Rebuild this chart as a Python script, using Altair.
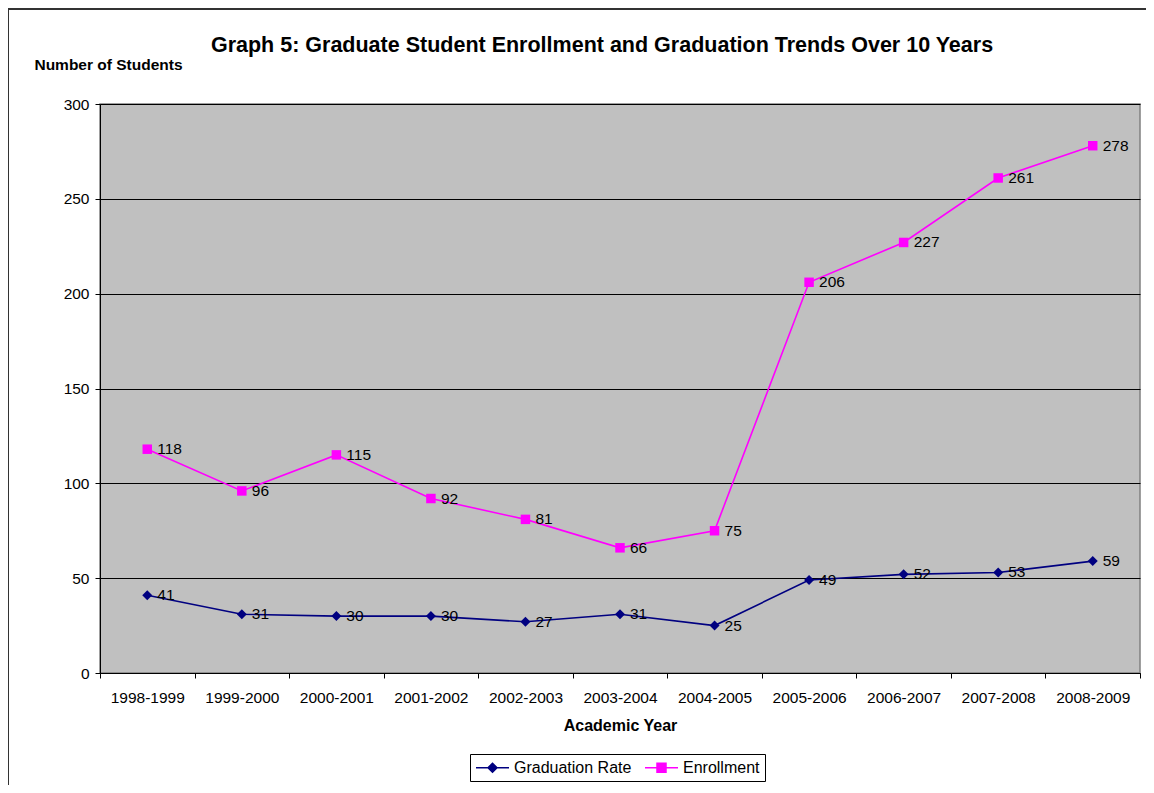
import altair as alt
import pandas as pd

years = ["1998-1999", "1999-2000", "2000-2001", "2001-2002", "2002-2003", "2003-2004",
         "2004-2005", "2005-2006", "2006-2007", "2007-2008", "2008-2009"]
graduation = [41, 31, 30, 30, 27, 31, 25, 49, 52, 53, 59]
enrollment = [118, 96, 115, 92, 81, 66, 75, 206, 227, 261, 278]
series_names = ["Graduation Rate", "Enrollment"]
series_colors = ["#000080", "#FF00FF"]

rows = []
for y, g, e in zip(years, graduation, enrollment):
    rows.append({"year": y, "value": g, "series": "Graduation Rate", "col": series_colors[0]})
    rows.append({"year": y, "value": e, "series": "Enrollment", "col": series_colors[1]})
df = pd.DataFrame(rows)

FONT = "Liberation Sans"

x_enc = alt.X("year:O", sort=years, bandPosition=0.5,
              scale=alt.Scale(type="band", paddingInner=0, paddingOuter=0),
              axis=alt.Axis(title="Academic Year", labelAngle=0, tickBand="extent",
                            grid=False, tickSize=5, labelPadding=12, titlePadding=12,
                            domainColor="#000000", tickColor="#000000",
                            labelFontSize=15.5, titleFontSize=16, titleFontWeight="bold"))
y_enc = alt.Y("value:Q", scale=alt.Scale(domain=[0, 300], nice=False),
              axis=alt.Axis(title="Number of Students", values=[0, 50, 100, 150, 200, 250, 300],
                            titleAngle=0, titleX=8, titleY=-40, titleAlign="center",
                            titleBaseline="middle", titleFontSize=15.5, titleFontWeight="bold",
                            tickSize=5, labelPadding=6, gridColor="#000000", gridWidth=1,
                            domainColor="#000000", tickColor="#000000", labelFontSize=15.5))

base = alt.Chart(df).encode(x=x_enc, y=y_enc)

lines = base.mark_line(strokeWidth=1.6).encode(
    color=alt.Color("col:N", scale=None),
    detail="series:N",
)

grad_pts = base.transform_filter(alt.datum.series == "Graduation Rate").mark_point(
    filled=True, opacity=1, size=100, shape="diamond").encode(
    color=alt.Color("col:N", scale=None))

enr_pts = base.transform_filter(alt.datum.series == "Enrollment").mark_point(
    filled=True, opacity=1, size=90, shape="square").encode(
    color=alt.Color("col:N", scale=None))

labels = base.mark_text(align="left", baseline="middle", dx=10, fontSize=15.5,
                        color="#000000").encode(text="value:Q")

legend_paths = [
    "M-2.2,0H2.2M0,-0.6L0.6,0L0,0.6L-0.6,0Z",
    "M-2.2,0H2.2M-0.6,-0.6H0.6V0.6H-0.6Z",
]

legend_layer = alt.Chart(df).transform_filter("false").mark_point(
    filled=False, opacity=1, strokeWidth=1.5).encode(
    x=x_enc, y=y_enc,
    color=alt.Color("series:N", scale=alt.Scale(domain=series_names, range=series_colors),
                    legend=alt.Legend(title=None, orient="none", direction="horizontal",
                                      legendX=370, legendY=650, strokeColor="#000000",
                                      padding=5, symbolSize=225, symbolOffset=9,
                                      labelOffset=13, columnPadding=10,
                                      labelFontSize=16, symbolStrokeWidth=1.5,
                                      symbolOpacity=1)),
    fill=alt.Fill("series:N", scale=alt.Scale(domain=series_names, range=series_colors)),
    shape=alt.Shape("series:N", scale=alt.Scale(domain=series_names, range=legend_paths)),
)

border = alt.Chart(df).mark_rect(fill=None, stroke="#333333", strokeWidth=2).encode(
    x=alt.value(-92), x2=alt.value(1200), y=alt.value(-95), y2=alt.value(800))

chart = alt.layer(border, lines, grad_pts, enr_pts, labels, legend_layer).properties(
    width=1040, height=569,
    autosize=alt.AutoSizeParams(type="none"),
    padding={"left": 92, "top": 96, "right": 6, "bottom": 112},
    title=alt.TitleParams(
        "Graph 5: Graduate Student Enrollment and Graduation Trends Over 10 Years",
        fontSize=21.5, fontWeight="bold", anchor="middle", dx=-18, offset=-48,
        color="#000000", font=FONT),
).configure(font=FONT).configure_view(
    fill="#C0C0C0", stroke="#808080", strokeWidth=1.5
).configure_axis(
    labelColor="#000000", titleColor="#000000", labelFont=FONT, titleFont=FONT
).configure_legend(labelFont=FONT, labelColor="#000000")

chart.save("out.html", embed_options={"renderer": "svg", "actions": False})
